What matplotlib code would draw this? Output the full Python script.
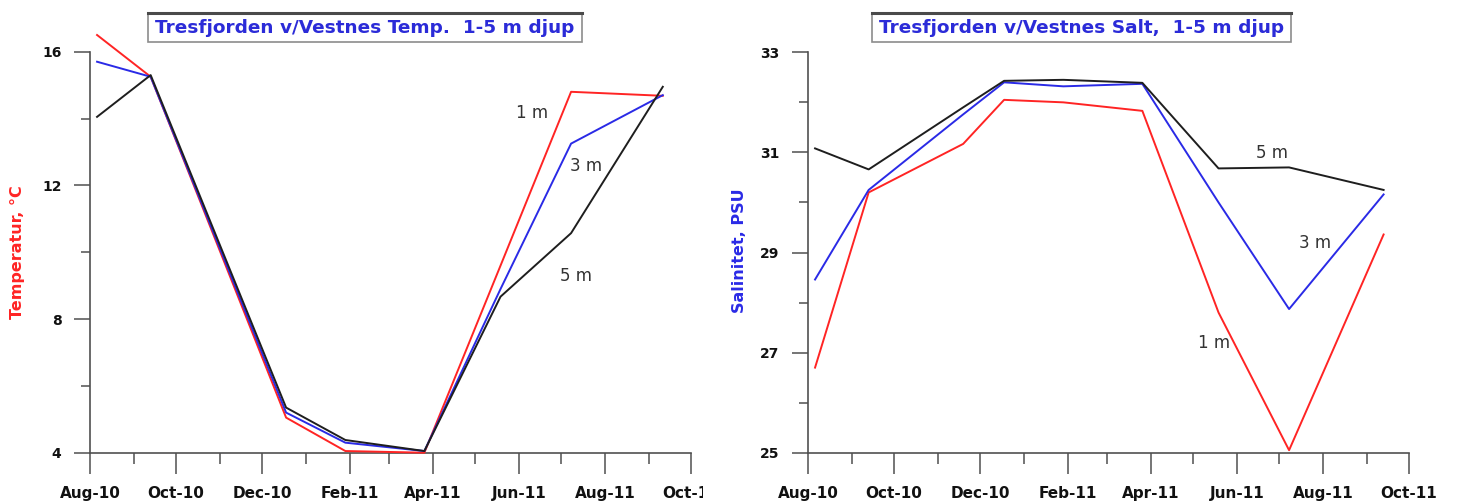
import matplotlib
matplotlib.use('Agg')
import matplotlib.pyplot as plt
import matplotlib.dates as mdates
from matplotlib.ticker import MultipleLocator, FixedLocator
from matplotlib.transforms import Bbox, TransformedBbox
from matplotlib.lines import Line2D
from matplotlib.patches import Rectangle

# ---------------- data ----------------
temp_dates = ['2010-08-06', '2010-09-13', '2010-12-18', '2011-01-29',
              '2011-03-26', '2011-05-19', '2011-07-08', '2011-09-11']
temp_1m = [16.5, 15.25, 5.05, 4.05, 4.0, 9.6, 14.8, 14.68]
temp_3m = [15.7, 15.25, 5.2, 4.3, 4.05, 8.9, 13.25, 14.7]
temp_5m = [14.05, 15.3, 5.35, 4.38, 4.05, 8.67, 10.57, 14.95]

salt_dates = ['2010-08-06', '2010-09-13', '2010-11-19', '2010-12-18', '2011-01-29',
              '2011-03-26', '2011-05-19', '2011-07-08', '2011-09-13']
salt_1m = [26.7, 30.2, 31.17, 32.05, 32.0, 31.83, 27.8, 25.05, 29.36]
salt_3m = [28.46, 30.25, 31.76, 32.4, 32.32, 32.37, 30.0, 27.87, 30.16]
salt_5m = [31.08, 30.66, 31.9, 32.43, 32.45, 32.39, 30.68, 30.7, 30.25]

temp_major = [4, 8, 12, 16]
temp_minor = [6, 10, 14]
salt_major = [25, 27, 29, 31, 33]
salt_minor = [26, 28, 30, 32]

titles = ['Tresfjorden v/Vestnes Temp.  1-5 m djup',
          'Tresfjorden v/Vestnes Salt,  1-5 m djup']
ylabels = ['Temperatur, °C', 'Salinitet, PSU']
depth_labels = ['1 m', '3 m', '5 m']

RED = '#ff2424'
BLUE = '#2a2ae6'
BLACK = '#1e1e1e'
AX = '#505050'

W, H = 1459, 504
fig = plt.figure(figsize=(W / 100, H / 100), dpi=100)
fig.patch.set_facecolor('white')

def px_axes(x0, x1, y_top, y_bot):
    return fig.add_axes([x0 / W, 1 - y_bot / H, (x1 - x0) / W, (y_bot - y_top) / H])

ax1 = px_axes(90, 691, 51.7, 452.7)
ax2 = px_axes(808, 1409, 52.3, 452.7)

t_d = mdates.datestr2num(temp_dates)
s_d = mdates.datestr2num(salt_dates)

for ax, d, series, ylim, maj, mnr in [
    (ax1, t_d, (temp_1m, temp_3m, temp_5m), (4, 16), temp_major, temp_minor),
    (ax2, s_d, (salt_1m, salt_3m, salt_5m), (25, 33), salt_major, salt_minor),
]:
    for vals, c in zip(series, (RED, BLUE, BLACK)):
        ax.plot(d, vals, color=c, lw=1.4, clip_on=False, zorder=3)
    ax.set_ylim(*ylim)
    ax.yaxis.set_major_locator(FixedLocator(maj))
    ax.yaxis.set_minor_locator(FixedLocator(mnr))
    ax.set_xlim(mdates.datestr2num('2010-08-01'), mdates.datestr2num('2011-10-01'))
    ax.xaxis.set_major_locator(mdates.MonthLocator(bymonth=[2, 4, 6, 8, 10, 12]))
    ax.xaxis.set_minor_locator(mdates.MonthLocator())
    ax.xaxis.set_major_formatter(mdates.DateFormatter('%b-%y'))
    for s in ('top', 'right'):
        ax.spines[s].set_visible(False)
    for s in ('left', 'bottom'):
        ax.spines[s].set_color(AX)
        ax.spines[s].set_linewidth(1.2)
    ax.tick_params(axis='x', which='major', length=15, width=1.1, color=AX,
                   pad=9, labelsize=11, labelcolor='#111111')
    ax.tick_params(axis='x', which='minor', length=8, width=1.1, color=AX)
    ax.tick_params(axis='y', which='major', length=11.5, width=1.1, color=AX,
                   pad=9, labelsize=10, labelcolor='#111111')
    ax.tick_params(axis='y', which='minor', length=6.5, width=1.1, color=AX)
    ax.set_facecolor('none')
    for lab in ax.get_xticklabels() + ax.get_yticklabels():
        lab.set_fontweight('bold')

# depth labels
lbl_kw = dict(fontsize=12, color='#333333', ha='center', va='center', zorder=4)
for (x, y), t in zip([(0.735, 0.847), (0.825, 0.715), (0.809, 0.441)], depth_labels):
    ax1.text(x, y, t, transform=ax1.transAxes, **lbl_kw)
for (x, y), t in zip([(0.676, 0.274), (0.844, 0.524), (0.772, 0.749)], depth_labels):
    ax2.text(x, y, t, transform=ax2.transAxes, **lbl_kw)

# titles with boxes
for (x0, x1), t in zip([(148, 582), (872, 1291)], titles):
    y0, y1 = 13, 42
    fig.add_artist(Rectangle((x0 / W, 1 - y1 / H), (x1 - x0) / W, (y1 - y0) / H,
                             transform=fig.transFigure, facecolor='white',
                             edgecolor='#8c8c8c', linewidth=1.2))
    fig.add_artist(Line2D([x0 / W, x1 / W], [1 - y0 / H, 1 - y0 / H],
                          color='#4a4a4a', lw=2.2, transform=fig.transFigure))
    fig.text((x0 + x1) / 2 / W, 1 - 28 / H, t, ha='center', va='center',
             fontsize=13.3, fontweight='bold', color='#2b2bd8')

# y labels
fig.text(18 / W, 1 - 252 / H, ylabels[0], rotation=90, ha='center', va='center',
         fontsize=11.5, fontweight='bold', color=RED)
fig.text(740 / W, 1 - 251 / H, ylabels[1], rotation=90, ha='center', va='center',
         fontsize=11.5, fontweight='bold', color=BLUE)

# clip the left panel's last tick label at the panel edge
clipbox = TransformedBbox(Bbox([[0, 0], [703 / W, 1]]), fig.transFigure)
fig.canvas.draw()
for tick in ax1.xaxis.get_major_ticks():
    tick.label1.set_clip_on(True)
    tick.label1.set_clip_box(clipbox)

fig.savefig('out.png', dpi=100)
